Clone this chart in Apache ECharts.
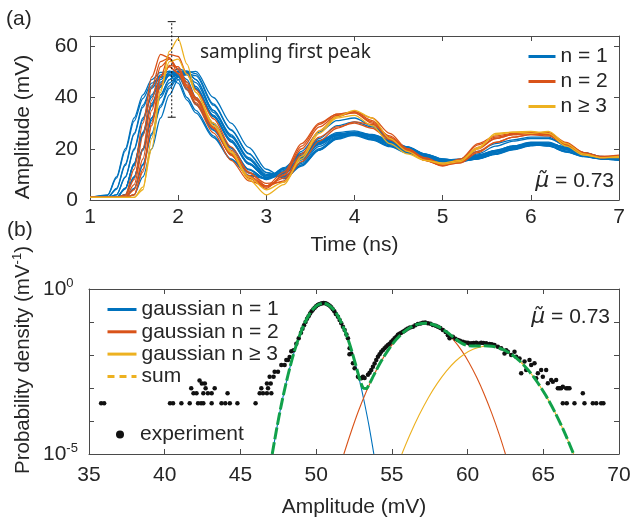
<!DOCTYPE html>
<html>
<head>
<meta charset="utf-8">
<script src="https://cdn.jsdelivr.net/npm/echarts@6.0.0/dist/echarts.min.js"></script>
<style>
html,body{margin:0;padding:0;background:#fff;}
#chart{width:634px;height:521px;}
</style>
</head>
<body>
<div id="chart"></div>
<script>
// ---------- Panel (a): time traces ----------
const timeNs = [1.0,1.2,1.3,1.4,1.5,1.6,1.7,1.8,1.9,2.0,2.1,2.2,2.4,2.6,2.8,3.0,3.2,3.4,3.6,3.8,4.0,4.2,4.4,4.6,4.8,5.0,5.2,5.4,5.6,5.8,6.0,6.2,6.4,6.6,6.8,7.0];

const tracesN1 = [
  [1,2,9,20,32,41,47,49.8,50.2,47,40,35,25,16,9.5,8.3,12.6,18.3,23.3,25.8,25.7,23.9,21.2,18.6,16.4,15.3,15.8,17.6,19.4,21.1,22,21.2,18.9,17,16.1,15.8],
  [1,1,4.5,14,26,37,44.5,48.8,50.3,49.3,43.5,37.5,27.5,18.2,10.7,8.2,12,17.5,22.6,25,25.1,23.4,20.8,18.3,16.2,15,15.4,17,18.9,20.6,21.6,21,18.7,16.9,16,15.6],
  [1,1,4.2,13.5,25.5,36.2,43.6,47.8,49.2,48.4,43,37.2,27.2,18,10.6,8.4,10.8,16.2,22.3,25.8,26.6,25.1,22.6,19.7,17.2,15.4,15.4,17.1,19.2,20.9,22.4,22.3,20,17.7,16.4,15.9],
  [1,1,2,9,20,32,41,47,49.8,50.2,47,40,30,20.5,12,8.2,12.3,18,23,25.5,25.4,23.6,21,18.5,16.3,15.2,15.6,17.4,19.2,20.9,21.8,21.1,18.8,17,16.1,15.8],
  [1,1,2,8.8,19.5,31.3,40.2,46,48.7,49.1,46,39.3,29.5,20.2,11.8,8,10.2,15.7,21.6,25,25.8,24.4,22,19.3,16.9,15.2,15.1,16.6,18.6,20.3,21.8,21.8,19.7,17.4,16.2,15.7],
  [1,1,1,4.5,14,26,37,44.5,48.8,50.3,49.3,43.5,32.5,22.7,14,8.8,10.5,16,22,25.5,26.3,24.8,22.3,19.5,17,15.3,15.2,16.8,18.8,20.5,22,22,19.8,17.5,16.3,15.8],
  [1,1,1,4.6,14.3,26.5,37.7,45.3,49.7,51.2,50.2,44.3,33,23,14.2,8.9,11,16.7,22.8,26.3,27,25.4,22.9,20,17.4,15.6,15.6,17.4,19.4,21.1,22.6,22.6,20.3,17.9,16.6,16],
  [1,1,1,4.5,14,26,37,44.5,48.8,50.3,49.3,43.5,32.5,22.7,14,8.8,9.4,14.3,20,24.3,26,25.4,23.2,20.6,17.9,15.9,15.2,16.2,18,19.9,21.4,22,20.6,18.4,16.8,16],
  [1,1,1,2,9,20,32,41,47,49.8,50.2,47,35,25,16,9.5,10.3,15.8,21.8,25.3,26.1,24.7,22.2,19.4,17,15.3,15.3,16.9,18.9,20.6,22.1,22,19.8,17.5,16.3,15.8],
  [1,1,1,2,8.7,19.4,31.1,39.9,45.7,48.4,48.8,45.8,34.2,24.6,15.8,9.4,9,13.7,19.5,23.7,25.4,24.9,22.8,20.3,17.7,15.8,15.1,16,17.8,19.6,21.1,21.7,20.4,18.2,16.7,15.9],
  [1,1,1,1,4.5,14,26,37,44.5,48.8,50.3,49.3,37.5,27.5,18.2,10.7,8.6,13.6,19.6,24.1,26,25.4,23.2,20.6,17.9,15.9,15.2,16.2,18,19.9,21.4,22,20.6,18.4,16.8,16],
  [1,1,1,1,4.3,13.6,25.4,36.2,43.6,47.9,49.4,48.5,37,27.2,18,10.8,9.2,14.8,20.9,24.6,25.5,24,21.6,18.9,16.5,14.8,14.8,16.3,18.2,19.9,21.3,21.3,19.2,17.1,16,15.5],
  [1,1,1,1,2,9,20,32,41,47,49.8,50.2,40,30,20.5,12,8.3,13.2,19.5,24,26,25.6,23.5,20.8,18,16,15.2,16.1,17.9,19.8,21.3,22,20.7,18.5,16.9,16.1],
  [1,1.8,8.5,19.2,30.8,39.6,45.6,48.2,48.6,45.6,39,34,24.4,15.8,9.6,8.5,11,16.5,22.4,25.6,26.2,24.6,22,19.3,16.9,15.2,15.3,16.9,18.9,20.6,22,21.9,19.7,17.5,16.3,15.8],
  [1,1,1,4.3,13.5,25.5,36.5,44,48.5,50,49,43.5,33,23.5,14.5,9.5,11.5,19,26.5,31,32,29,24,20,17,15.5,16,19,22,23.5,24.5,24.5,21,18,16.5,16],
  [1,1,1,2,9,20,32,41,47,49.8,50.2,47,35,25.5,16.5,10,10.5,17,24,29,30.5,28.5,24,20,17,15.5,15.5,18,21,23,24,24,21.5,18.5,17,16.3]
];

const tracesN2 = [
  [1,1,1,2,12,30,48,56.8,55.5,49.2,43,37.2,26.2,15.5,7.5,5.5,11,22,30,33.5,34.5,31,24.5,19.5,15.5,13.2,15.5,21.5,24.5,25.8,26.3,25.5,21.5,18,16.8,17.2],
  [1,1,1,1,2,12,30,48,56.8,56,49.2,43,31.7,20.7,11,5.5,7.5,18,27,32.5,34.5,32,26,20,16,13.5,14.5,20,24,25.5,26,26.3,22.5,18.5,16.5,17],
  [1,1,1,1,6,20,39,52,55,51,44.5,39,28,17.5,9,5,9.5,20,28.5,33,34,30.5,24,19,15.5,13.5,15,20.5,24,25.5,26,25.5,21.5,18,16.8,17],
  [1,1,1,1,4,16,35,48,52,49.5,44,38,28,18,9.5,5.5,8.5,17,24.5,28.5,30,28,23.5,19.5,16,14,15,19,22.5,24.5,25.5,25,21.5,18,16.5,16.8],
  [1,1,1,1,2,11,29,45,52.5,52,46,40,30,19.5,10.5,6.5,7,15,23,28,30.5,29.5,25,20,16.5,14,14.5,18.5,22.5,24.5,25.5,25.5,22,18.5,17,17],
  [1,1,1,1.5,8,25,44,54,55.5,51,45,39.5,28.5,17.5,8.5,4.5,10,21,29.5,33.5,34,30,24,19.5,15.5,13.5,16,22,25,26,26.3,25.8,22,18.5,17,17.5]
];

const tracesN3 = [
  [1,1,1,1,1,5,20,42,58,63,53,42,29,18.5,8,2,6,17,27,32.5,35,32,24,19,15.5,14,15,20,26,26.5,26,26.8,22,18,16.5,16.5],
  [1,1,1,1,1,4,24,43,54,55,49,42,30,19,9,4,7,16,26,32,33,29,22,18,15.5,14.5,15.5,20.5,25.5,26.5,26.8,26,21,17.5,16.5,17]
];

// sampling window marker: [time, lower, upper]
const samplingBar = [[1.927, 32.3, 69.6]];

// ---------- Panel (b): amplitude histogram ----------
const g1Amp = [47.1,47.4,47.7,48.0,48.3,48.6,48.9,49.2,49.5,49.8,50.1,50.46,50.8,51.1,51.4,51.7,52.0,52.3,52.6,52.9,53.2,53.5,53.81];
const g1Dens = [1e-5,6.0e-5,3.09e-4,1.32e-3,4.79e-3,0.0148,0.038,0.0841,0.156,0.246,0.327,0.369,0.331,0.252,0.162,0.0881,0.0407,0.0158,5.13e-3,1.45e-3,3.39e-4,6.76e-5,1e-5];

const g2Amp = [51.83,52.3,52.8,53.3,53.8,54.3,54.8,55.3,55.8,56.3,56.8,57.17,57.6,58.1,58.6,59.1,59.6,60.1,60.6,61.1,61.6,62.1,62.5];
const g2Dens = [1e-5,4.57e-5,2.04e-4,7.59e-4,2.40e-3,6.53e-3,0.0151,0.0298,0.0501,0.0716,0.0873,0.0912,0.0859,0.0692,0.0474,0.0277,0.0138,5.85e-3,2.11e-3,6.5e-4,1.70e-4,3.80e-5,1e-5];

const g3Amp = [55.66,56.2,56.8,57.4,58.0,58.6,59.2,59.8,60.4,61.0,61.33,61.6,62.2,62.8,63.4,64.0,64.6,65.2,65.8,66.4,67.0];
const g3Dens = [1e-5,3.89e-5,1.51e-4,5.01e-4,1.38e-3,3.24e-3,6.46e-3,0.01076,0.0152,0.01816,0.01862,0.01832,0.0156,0.0112,6.82e-3,3.51e-3,1.52e-3,5.58e-4,1.73e-4,4.53e-5,1e-5];

const sumAmp = [47.1,47.4,47.7,48.0,48.3,48.6,48.9,49.2,49.5,49.8,50.1,50.46,50.8,51.1,51.4,51.7,52.0,52.3,52.6,52.9,53.1,53.3,53.5,53.8,54.3,54.8,55.3,55.8,56.3,56.8,57.2,57.6,58.1,58.6,59.1,59.6,60.1,60.6,61.1,61.6,62.2,62.8,63.4,64.0,64.6,65.2,65.8,66.4,67.0];
const sumDens = [1e-5,6.0e-5,3.09e-4,1.32e-3,4.79e-3,0.0148,0.038,0.0841,0.156,0.246,0.327,0.369,0.331,0.252,0.162,0.0881,0.0407,0.0158,5.25e-3,1.72e-3,1.015e-3,9.6e-4,1.29e-3,2.41e-3,6.53e-3,0.0151,0.0298,0.0501,0.0717,0.0875,0.0915,0.0866,0.0708,0.0506,0.0335,0.0230,0.0189,0.0186,0.0191,0.0185,0.0156,0.0112,6.82e-3,3.51e-3,1.52e-3,5.58e-4,1.73e-4,4.53e-5,1e-5];

const expAmp = [35.8,36.0,40.35,40.55,41.1,41.65,42.2,42.4,42.55,43.1,43.75,44.0,44.3,44.8,46.0,
  41.9,42.1,42.55,42.85,43.1,44.15,41.75,42.7,43.3,42.45,42.65,42.3,
  46.27,46.49,46.75,47.04,46.38,46.82,46.75,47.0,46.93,47.19,47.26,47.48,47.7,47.92,48.03,48.14,48.25,48.36,48.51,48.69,
  48.85,49.0,49.1,49.2,49.3,49.4,49.5,49.6,49.7,49.8,49.9,50.0,50.1,50.2,50.3,50.4,50.5,50.6,50.7,50.8,50.9,51.0,51.1,51.2,51.3,
  51.44,51.55,51.66,51.77,51.88,52.0,52.1,52.21,52.32,52.2,52.43,52.54,52.76,52.87,52.98,53.09,53.2,53.42,53.53,53.64,53.75,53.86,53.97,
  54.08,54.19,54.3,54.41,54.52,54.63,54.74,54.85,54.96,55.07,55.18,55.3,55.4,55.5,55.62,55.73,55.84,55.95,56.06,56.2,56.39,56.55,56.72,
  56.9,57.05,57.2,57.38,57.55,57.71,57.9,58.04,58.2,58.37,58.55,58.7,58.81,59.03,59.2,59.36,59.5,59.69,59.85,60.02,60.13,60.24,60.4,
  60.57,60.75,60.9,61.05,61.23,61.45,61.6,61.78,62.0,62.22,62.44,62.55,62.66,62.88,63.1,63.21,63.43,63.54,63.76,63.87,64.09,64.2,
  64.42,64.53,64.64,64.86,64.97,65.19,65.3,65.52,65.63,65.85,65.96,66.07,66.18,66.29,66.51,66.62,66.73,
  66.29,66.55,67.06,67.72,68.27,68.5,68.82,68.97,67.61];
const expDens = [3.45e-4,3.45e-4,3.45e-4,3.45e-4,3.45e-4,3.45e-4,3.45e-4,3.45e-4,3.45e-4,3.45e-4,3.45e-4,3.45e-4,3.45e-4,3.45e-4,3.45e-4,
  6.9e-4,6.9e-4,6.9e-4,6.9e-4,6.9e-4,6.9e-4,9.8e-4,9.8e-4,9.8e-4,1.38e-3,1.38e-3,1.7e-3,
  6.9e-4,6.9e-4,6.9e-4,6.9e-4,9.8e-4,9.8e-4,1.38e-3,1.38e-3,2.2e-3,2.2e-3,3.1e-3,3.1e-3,5.0e-3,5.0e-3,7.1e-3,7.1e-3,8.7e-3,0.013,0.014,0.022,
  0.032,0.047,0.062,0.08,0.10,0.125,0.15,0.18,0.21,0.24,0.27,0.30,0.325,0.345,0.36,0.37,0.375,0.37,0.355,0.335,0.31,0.28,0.245,0.21,0.175,
  0.145,0.115,0.091,0.072,0.057,0.042,0.032,0.016,0.011,0.0105,0.0056,0.004,0.0022,0.002,0.00196,0.0022,0.002,0.0025,0.0029,0.0035,0.0044,0.0055,0.0071,
  0.0089,0.0105,0.0126,0.0142,0.016,0.018,0.02,0.022,0.025,0.028,0.032,0.036,0.041,0.044,0.047,0.051,0.054,0.059,0.064,0.068,0.072,0.08,0.087,
  0.09,0.095,0.096,0.091,0.088,0.081,0.077,0.072,0.066,0.057,0.05,0.04,0.032,0.036,0.031,0.0285,0.027,0.0254,0.024,0.0237,0.022,0.0226,0.0232,
  0.0237,0.0225,0.0237,0.023,0.0226,0.0216,0.021,0.0201,0.0179,0.0159,0.0112,0.014,0.0126,0.01,0.0126,0.0089,0.0079,0.0028,0.0063,0.0035,0.0071,0.005,
  0.0056,0.00196,0.0028,0.0035,0.0022,0.0035,0.00139,0.00175,0.00156,0.00175,0.00098,0.00098,0.00098,0.0011,0.00098,0.00098,0.00098,
  3.45e-4,3.45e-4,3.45e-4,3.45e-4,3.45e-4,3.45e-4,3.45e-4,3.45e-4,6.9e-4];

// tick labels
const timeTicks = [1,2,3,4,5,6,7];
const ampTicksA = [0,20,40,60];
const ampTicksB = [35,40,45,50,55,60,65,70];

// ---------- build ----------
const FONT = 'Liberation Sans';
const TXT = '#262626';
const AX = '#4a4a4a';
const C1 = '#0072BD', C2 = '#D95319', C3 = '#EDB120', CSUM = '#11A14A';

function zip(xs, ys){ return xs.map((x,i)=>[x, ys[i]]); }

const series = [];
tracesN1.forEach(v => series.push({type:'line', name:'n = 1', xAxisIndex:0, yAxisIndex:0, data: zip(timeNs, v),
  symbol:'none', smooth:0.3, smoothMonotone:'x', lineStyle:{color:C1, width:1.3}, itemStyle:{color:C1}, z:2}));
tracesN2.forEach(v => series.push({type:'line', name:'n = 2', xAxisIndex:0, yAxisIndex:0, data: zip(timeNs, v),
  symbol:'none', smooth:0.3, smoothMonotone:'x', lineStyle:{color:C2, width:1.3}, itemStyle:{color:C2}, z:3}));
tracesN3.forEach(v => series.push({type:'line', name:'n \u2265 3', xAxisIndex:0, yAxisIndex:0, data: zip(timeNs, v),
  symbol:'none', smooth:0.3, smoothMonotone:'x', lineStyle:{color:C3, width:1.3}, itemStyle:{color:C3}, z:4}));

series.push({type:'custom', xAxisIndex:0, yAxisIndex:0, clip:false, silent:true, z:10, data: samplingBar,
  renderItem: function(params, api){
    const lo = api.coord([api.value(0), api.value(1)]);
    const hi = api.coord([api.value(0), api.value(2)]);
    const w = 4;
    return {type:'group', children:[
      {type:'line', shape:{x1:lo[0], y1:lo[1], x2:hi[0], y2:hi[1]}, style:{stroke:'#111', lineWidth:1, lineDash:[2,2]}},
      {type:'line', shape:{x1:lo[0]-w, y1:lo[1], x2:lo[0]+w, y2:lo[1]}, style:{stroke:'#111', lineWidth:1}},
      {type:'line', shape:{x1:hi[0]-w, y1:hi[1], x2:hi[0]+w, y2:hi[1]}, style:{stroke:'#111', lineWidth:1}}
    ]};
  }});

series.push({type:'line', name:'gaussian n = 1', xAxisIndex:2, yAxisIndex:2, data: zip(g1Amp, g1Dens), symbol:'none', smooth:0.3,
  lineStyle:{color:C1, width:1.1}, itemStyle:{color:C1}, z:2});
series.push({type:'line', name:'gaussian n = 2', xAxisIndex:2, yAxisIndex:2, data: zip(g2Amp, g2Dens), symbol:'none', smooth:0.3,
  lineStyle:{color:C2, width:1.1}, itemStyle:{color:C2}, z:2});
series.push({type:'line', name:'gaussian n \u2265 3', xAxisIndex:2, yAxisIndex:2, data: zip(g3Amp, g3Dens), symbol:'none', smooth:0.3,
  lineStyle:{color:C3, width:1.1}, itemStyle:{color:C3}, z:2});
series.push({type:'scatter', name:'experiment', xAxisIndex:2, yAxisIndex:2, data: zip(expAmp, expDens), symbol:'circle', symbolSize:4.5,
  itemStyle:{color:'#111', opacity:1}, z:3});
series.push({type:'line', name:'sum', xAxisIndex:2, yAxisIndex:2, data: zip(sumAmp, sumDens), symbol:'none', smooth:0.3,
  lineStyle:{color:CSUM, width:3, type:[12,3]}, itemStyle:{color:C3}, z:4});

const axisCommon = {
  axisLine:{show:true, onZero:false, lineStyle:{color:AX, width:1}},
  axisTick:{show:true, inside:true, length:5, lineStyle:{color:AX}},
  splitLine:{show:false},
  axisLabel:{color:TXT, fontFamily:FONT, fontSize:21}
};
function ax(extra){ return Object.assign({}, JSON.parse(JSON.stringify(axisCommon)), extra); }

const supRich = {
  b:{fontSize:21, fontFamily:FONT, color:TXT, lineHeight:25},
  s:{fontSize:13, fontFamily:FONT, color:TXT, verticalAlign:'top', lineHeight:13}
};
const hideSym = {opacity:0};
function lgItem(name, color, extra){ return Object.assign({name:name, itemStyle:{color:color, opacity:0}, lineStyle:{color:color, width:3, type:'solid'}}, extra||{}); }

const option = {
  animation:false,
  backgroundColor:'#fff',
  textStyle:{fontFamily:FONT, color:TXT},
  grid:[
    {left:90, top:36, width:529, height:164},
    {left:89, top:289, width:530, height:165}
  ],
  xAxis:[
    ax({type:'value', gridIndex:0, min:1, max:7, interval:1, position:'bottom',
      axisLabel:{color:TXT, fontFamily:FONT, fontSize:21, margin:7},
      name:'Time (ns)', nameLocation:'middle', nameGap:35, nameTextStyle:{fontSize:21, fontFamily:FONT, color:TXT}}),
    ax({type:'value', gridIndex:0, min:1, max:7, interval:1, position:'top', axisLabel:{show:false}}),
    ax({type:'value', gridIndex:1, min:35, max:70, interval:5, position:'bottom',
      axisLabel:{color:TXT, fontFamily:FONT, fontSize:21, margin:11},
      name:'Amplitude (mV)', nameLocation:'middle', nameGap:43, nameTextStyle:{fontSize:21, fontFamily:FONT, color:TXT}}),
    ax({type:'value', gridIndex:1, min:35, max:70, interval:5, position:'top', axisLabel:{show:false}})
  ],
  yAxis:[
    ax({type:'value', gridIndex:0, min:0, max:64, position:'left',
      axisTick:{show:true, inside:true, length:5, lineStyle:{color:AX}, customValues:ampTicksA},
      axisLabel:{color:TXT, fontFamily:FONT, fontSize:21, margin:12, customValues:ampTicksA}}),
    ax({type:'value', gridIndex:0, min:0, max:64, position:'right',
      axisTick:{show:true, inside:true, length:5, lineStyle:{color:AX}, customValues:ampTicksA},
      axisLabel:{show:false}}),
    ax({type:'log', logBase:10, gridIndex:1, min:1e-5, max:1, position:'left',
      axisLabel:{align:'left', margin:46, rich:supRich,
        formatter:function(v){ const e = Math.round(Math.log10(v)); if(e===0) return '{b|10}{s|0}'; if(e===-5) return '{b|10}{s|-5}'; return ''; }}}),
    ax({type:'log', logBase:10, gridIndex:1, min:1e-5, max:1, position:'right', axisLabel:{show:false}})
  ],
  legend:[
    {data:[lgItem('n = 1', C1), lgItem('n = 2', C2), lgItem('n \u2265 3', C3)], orient:'vertical', left:522, top:41,
      itemWidth:27, itemHeight:12, itemGap:4, selectedMode:false, itemStyle:hideSym,
      textStyle:{fontSize:21, fontFamily:FONT, color:TXT}},
    {data:[lgItem('gaussian n = 1', C1), lgItem('gaussian n = 2', C2), lgItem('gaussian n \u2265 3', C3),
           lgItem('sum', C3, {lineStyle:{color:C3, type:[7,5], width:3}})],
      orient:'vertical', left:101, top:294, itemWidth:29, itemHeight:12, itemGap:1.3, selectedMode:false, itemStyle:hideSym,
      textStyle:{fontSize:21, fontFamily:FONT, color:TXT}},
    {data:[{name:'experiment', icon:'circle', itemStyle:{color:'#111', opacity:1}}], orient:'vertical', left:111, top:419, itemWidth:8, itemHeight:8,
      selectedMode:false, textStyle:{fontSize:21, fontFamily:FONT, color:TXT, padding:[0,0,0,11]}}
  ],
  graphic:[
    {type:'text', left:6, top:9, style:{text:'(a)', fontSize:21, fontFamily:FONT, fill:TXT}},
    {type:'text', left:7, top:220, style:{text:'(b)', fontSize:21, fontFamily:FONT, fill:TXT}},
    {type:'text', left:200, top:43, style:{text:'sampling first peak', fontSize:19, fontFamily:'Noto Sans', fill:TXT}},
    {type:'text', x:23, y:127, rotation:Math.PI/2,
      style:{text:'Amplitude (mV)', fontSize:21, fontFamily:FONT, fill:TXT, align:'center', verticalAlign:'middle', textAlign:'center', textVerticalAlign:'middle'}},
    {type:'text', x:23, y:360, rotation:Math.PI/2,
      style:{text:'{n|Probability density (mV}{s|-1}{n|)}', align:'center', verticalAlign:'middle', textAlign:'center', textVerticalAlign:'middle',
        rich:{n:{fontSize:20.5, fontFamily:FONT, fill:TXT, lineHeight:24}, s:{fontSize:13, fontFamily:FONT, fill:TXT, verticalAlign:'top', lineHeight:13}}}},
    {type:'text', right:20, top:170, style:{text:'{m|\u03BC\u0303} = 0.73', fontSize:21, fontFamily:FONT, fill:TXT,
      rich:{m:{fontSize:22, fontFamily:'DejaVu Sans', fontStyle:'italic', fill:TXT}}}},
    {type:'text', right:24, top:306, style:{text:'{m|\u03BC\u0303} = 0.73', fontSize:21, fontFamily:FONT, fill:TXT,
      rich:{m:{fontSize:22, fontFamily:'DejaVu Sans', fontStyle:'italic', fill:TXT}}}}
  ],
  series: series
};

const chart = echarts.init(document.getElementById('chart'), null, {renderer:'canvas'});
chart.setOption(option);
</script>
</body>
</html>
